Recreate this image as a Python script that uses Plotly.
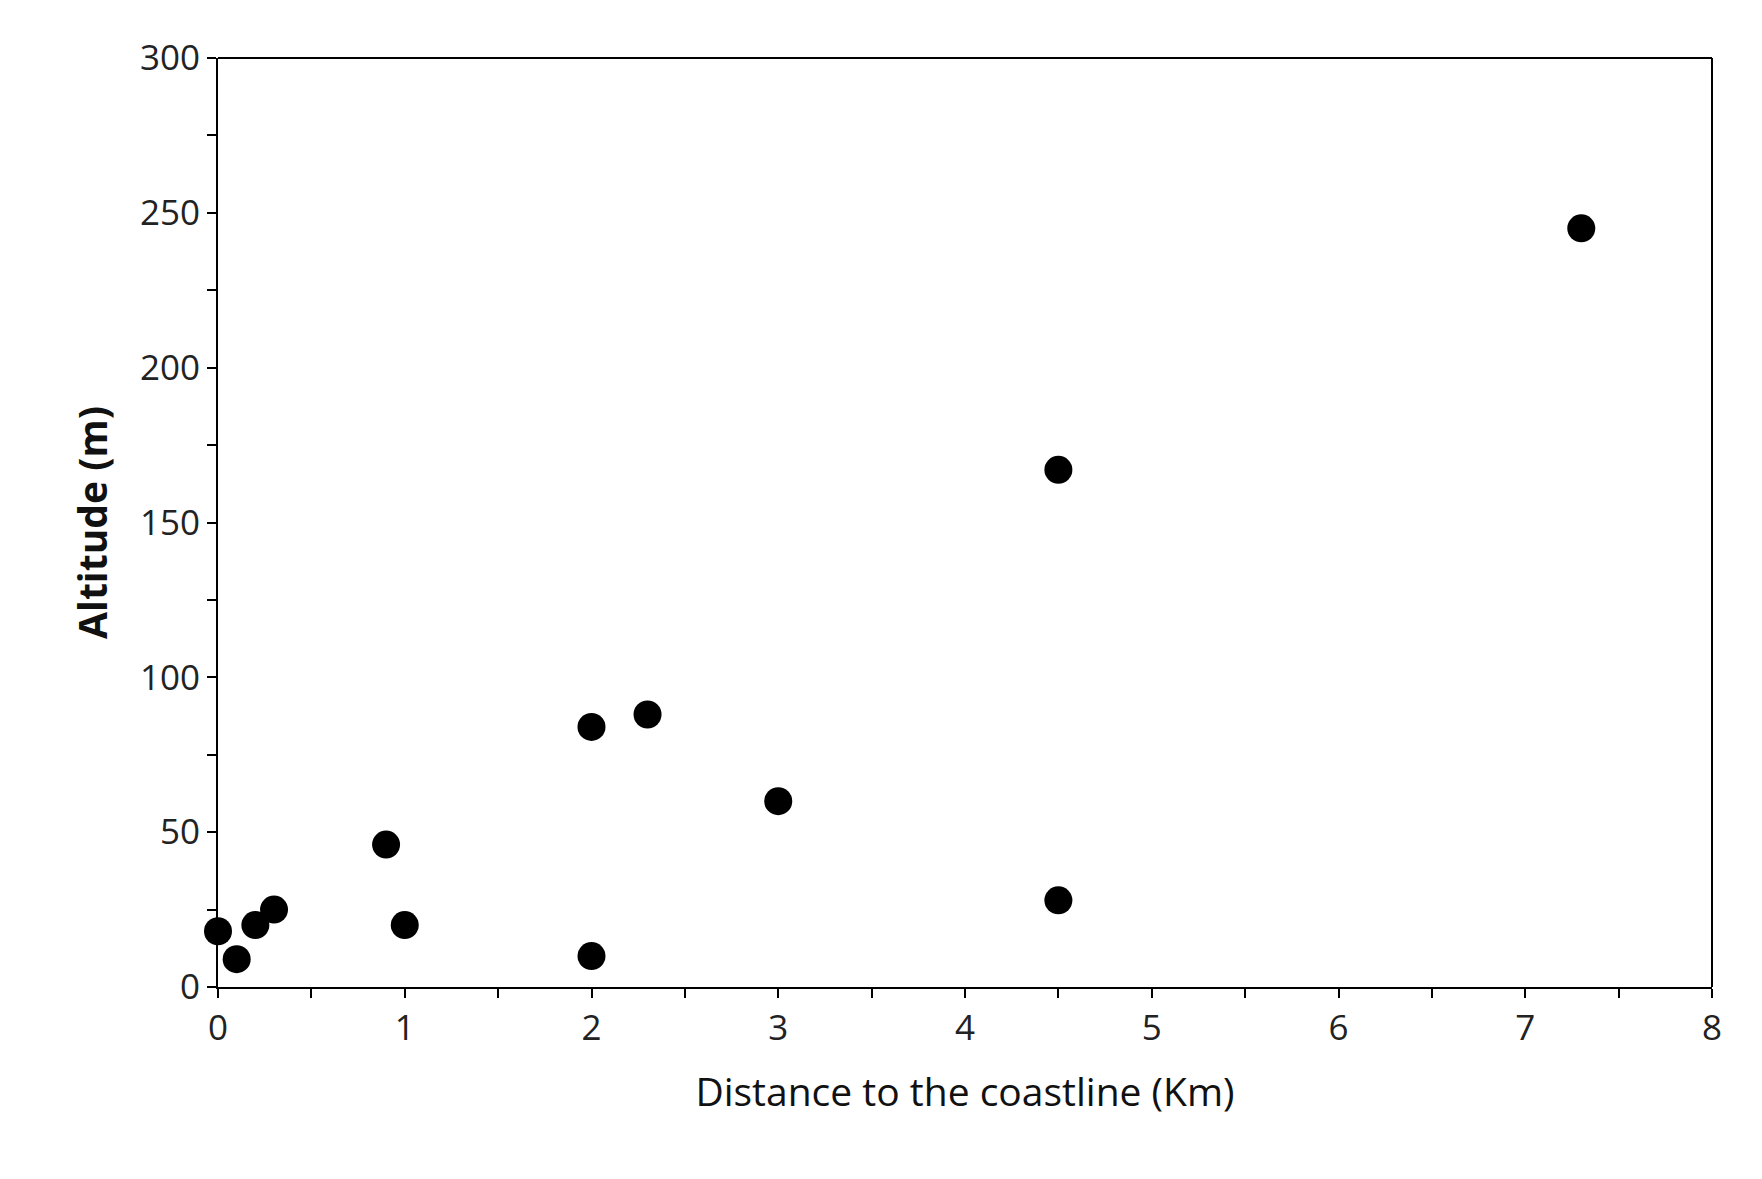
import plotly.graph_objects as go

distance_km = [0, 0.1, 0.2, 0.3, 0.9, 1.0, 2.0, 2.0, 2.3, 3.0, 4.5, 4.5, 7.3]
altitude_m = [18, 9, 20, 25, 46, 20, 84, 10, 88, 60, 167, 28, 245]

fig = go.Figure(go.Scatter(x=distance_km, y=altitude_m, mode="markers",
                           marker=dict(color="black", size=28), cliponaxis=False))
font = dict(family="Open Sans, DejaVu Sans", size=35, color="#222")
tfont = dict(family="Open Sans, DejaVu Sans", size=39, color="#111")
axis_common = dict(showgrid=False, zeroline=False, showline=True, linecolor="black", linewidth=2,
                   ticks="outside", ticklen=9, tickwidth=2, tickcolor="black", tickfont=font,
                   mirror=False)
fig.update_layout(
    width=1762, height=1179, plot_bgcolor="white", paper_bgcolor="white",
    margin=dict(l=210, r=58, t=50, b=200), showlegend=False,
    xaxis=dict(range=[0, 8], dtick=1, title=dict(text="Distance to the coastline (Km)", font=tfont, standoff=30),
               minor=dict(dtick=0.5, ticks="outside", ticklen=9, tickwidth=2, tickcolor="black"), **axis_common),
    yaxis=dict(range=[0, 300], dtick=50, title=dict(text="<b>Altitude (m)</b>", font=tfont, standoff=20),
               minor=dict(dtick=25, ticks="outside", ticklen=9, tickwidth=2, tickcolor="black"), **axis_common),
)
fig.add_shape(type="line", xref="paper", yref="paper", x0=0, x1=1, y0=1, y1=1, line=dict(color="black", width=2))
fig.add_shape(type="line", xref="paper", yref="paper", x0=1, x1=1, y0=0, y1=1, line=dict(color="black", width=2))
fig.write_html("out.html")
